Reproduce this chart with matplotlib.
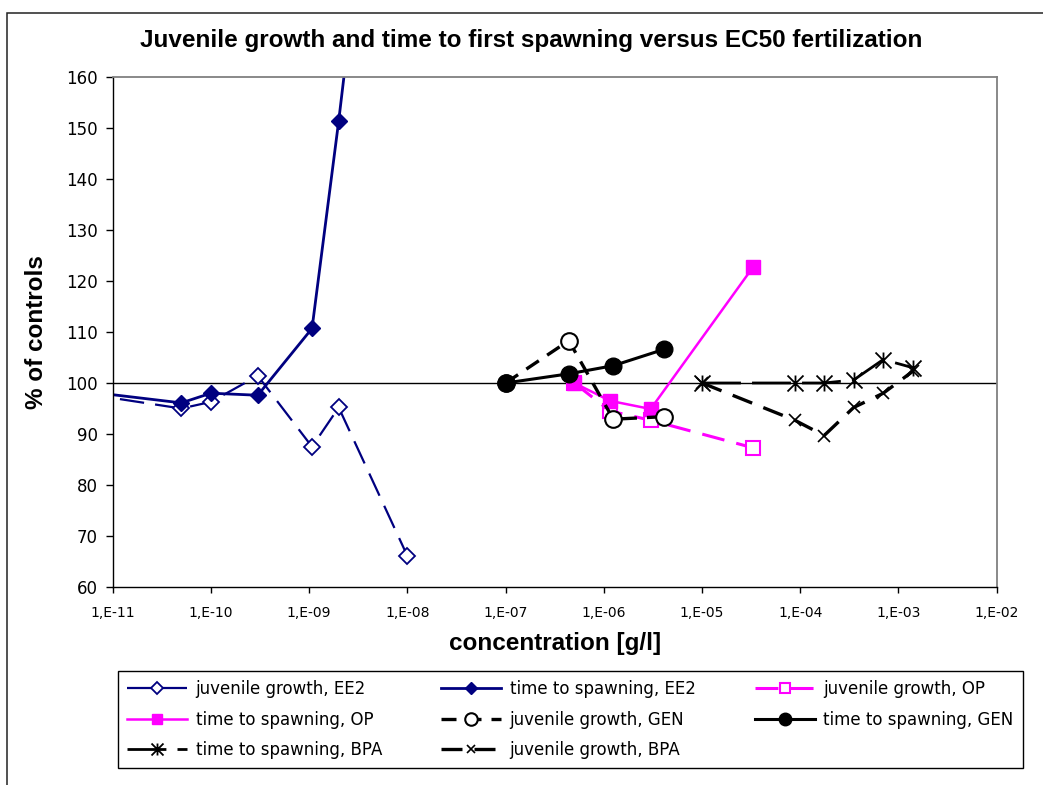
import numpy as np
import matplotlib.pyplot as plt
from matplotlib.path import Path
from matplotlib.patches import Rectangle
from matplotlib.ticker import FixedLocator, FuncFormatter, NullLocator

# EE2 (controls sit below the axis minimum)
ee2_conc = [1e-12, 5e-11, 1e-10, 3e-10, 1.07e-9, 2e-9, 1e-8]
ee2_juv = [100, 95.0, 96.3, 101.4, 87.5, 95.2, 66.1]
ee2_spawn = [100, 96.1, 98.0, 97.6, 110.7, 151.4, 265.0]

# OP
op_conc = [5e-7, 1.16e-6, 3e-6, 3.3e-5]
op_juv = [100, 94.5, 92.7, 87.3]
op_spawn = [100, 96.5, 94.9, 122.7]

# GEN
gen_conc = [1e-7, 4.4e-7, 1.25e-6, 4.1e-6]
gen_juv = [100, 108.3, 92.9, 93.4]
gen_spawn = [100, 101.8, 103.4, 106.6]

# BPA
bpa_conc = [1e-5, 8.8e-5, 1.75e-4, 3.5e-4, 7e-4, 1.4e-3]
bpa_spawn = [100, 100, 100, 100.6, 104.6, 103.0]
bpa_juv = [100, 92.7, 89.7, 95.2, 98.0, 102.3]

decades = np.arange(-11, -1)
y_ticks = np.arange(60, 161, 10)

NAVY = '#000080'
MAGENTA = '#FF00FF'

# asterisk marker: an x plus a vertical bar
star = Path([(0, -1), (0, 1), (-1, -1), (1, 1), (-1, 1), (1, -1)],
            [Path.MOVETO, Path.LINETO] * 3)

plt.rcParams['font.family'] = 'DejaVu Sans'

fig = plt.figure(figsize=(10.43, 7.85), dpi=100)
ax = fig.add_axes([112.7 / 1043, 1 - 587 / 785, 884 / 1043, 510 / 785])

ax.axhline(100, color='black', lw=1, zorder=1.5)

lines = {}
lines['jEE2'], = ax.plot(ee2_conc, ee2_juv, color=NAVY, lw=1.6, ls=(0, (11, 5)),
                         marker='D', ms=8, mfc='white', mec=NAVY, mew=1.3,
                         label='juvenile growth, EE2')
lines['sEE2'], = ax.plot(ee2_conc, ee2_spawn, color=NAVY, lw=2,
                         marker='D', ms=8.5, mfc=NAVY, mec=NAVY,
                         label='time to spawning, EE2')
lines['jOP'], = ax.plot(op_conc, op_juv, color=MAGENTA, lw=2.2, ls=(0, (7.5, 4)),
                        marker='s', ms=10.5, mfc='white', mec=MAGENTA, mew=1.5,
                        label='juvenile growth, OP')
lines['sOP'], = ax.plot(op_conc, op_spawn, color=MAGENTA, lw=1.8,
                        marker='s', ms=10.5, mfc=MAGENTA, mec=MAGENTA,
                        label='time to spawning, OP')
lines['jGEN'], = ax.plot(gen_conc, gen_juv, color='black', lw=2.4, ls=(0, (4.5, 3)),
                         marker='o', ms=12, mfc='white', mec='black', mew=1.5,
                         label='juvenile growth, GEN')
lines['sGEN'], = ax.plot(gen_conc, gen_spawn, color='black', lw=2.2,
                         marker='o', ms=12, mfc='black', mec='black',
                         label='time to spawning, GEN')
lines['sBPA'], = ax.plot(bpa_conc, bpa_spawn, color='black', lw=2, ls=(0, (14, 4)),
                         marker=star, ms=11.5, mec='black', mew=1.3,
                         label='time to spawning, BPA')
lines['jBPA'], = ax.plot(bpa_conc, bpa_juv, color='black', lw=2.4, ls=(0, (6.3, 3.6)),
                         marker='x', ms=8.5, mec='black', mew=1.2,
                         label='juvenile growth, BPA')

ax.set_xscale('log')
ax.set_xlim(1e-11, 1e-2)
ax.set_ylim(60, 160)
ax.xaxis.set_major_locator(FixedLocator(10.0 ** decades))
ax.xaxis.set_minor_locator(NullLocator())
ax.xaxis.set_major_formatter(FuncFormatter(lambda v, p: f'1,E{int(round(np.log10(v))):03d}'))
ax.set_yticks(y_ticks)

ax.tick_params(axis='y', direction='out', length=5, width=1, pad=5.5, labelsize=12)
ax.tick_params(axis='x', direction='out', length=4, width=1, pad=10, labelsize=10)

for side in ('left', 'bottom'):
    ax.spines[side].set_color('black')
    ax.spines[side].set_linewidth(1)
for side in ('top', 'right'):
    ax.spines[side].set_color('#808080')
    ax.spines[side].set_linewidth(1.3)

ax.set_ylabel('% of controls', family='Liberation Sans', weight='bold', fontsize=17.5)
ax.yaxis.set_label_coords(-0.073, 0.5)
ax.set_xlabel('concentration [g/l]', family='Liberation Sans', weight='bold', fontsize=17.5)
ax.xaxis.set_label_coords(0.5, -0.088)

fig.text(531 / 1043, 1 - 40 / 785,
         'Juvenile growth and time to first spawning versus EC50 fertilization',
         ha='center', va='center', family='Liberation Sans', weight='bold', fontsize=17.5)

# outer chart frame
fig.add_artist(Rectangle((7 / 1043, -0.1), 1.2, 1 - 13 / 785 + 0.1,
                         transform=fig.transFigure, fill=False,
                         ec='#222222', lw=1.1))

# legend is filled column by column, so order handles to read row by row
order = ['jEE2', 'sOP', 'sBPA', 'sEE2', 'jGEN', 'jBPA', 'jOP', 'sGEN']
handles = [lines[k] for k in order]
leg = fig.legend(handles, [h.get_label() for h in handles],
                 loc='upper left',
                 bbox_to_anchor=(118 / 1043, 1 - 671 / 785 - 0.125, 904.7 / 1043, 0.125),
                 mode='expand', ncol=3, fontsize=12, frameon=True, fancybox=False,
                 edgecolor='black', framealpha=1, borderpad=0.55, labelspacing=0.75,
                 handlelength=3.6, handletextpad=0.5, markerscale=0.75,
                 borderaxespad=0)
leg.get_frame().set_linewidth(1)

fig.savefig('out.png', dpi=100)
